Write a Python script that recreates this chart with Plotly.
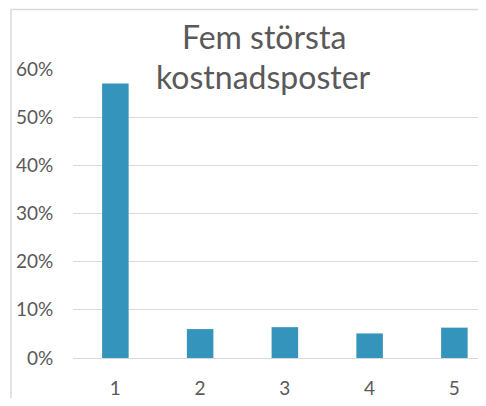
import plotly.graph_objects as go

categories = ["1", "2", "3", "4", "5"]
values = [0.570, 0.060, 0.064, 0.051, 0.063]
title_lines = ["Fem största", "kostnadsposter"]

# page body has an 8px margin, so work in window pixels and shift by OFF
OFF = 8
W, H = 486 - OFF, 406 - 2 * OFF
L, R, T, B = 73 - OFF, 0, 69 - OFF, 48 - OFF
pw, ph = W - L - R, H - T - B
CAT_PX = 84.75  # pixels per category in the reference
x_max = -0.5 + pw / CAT_PX

def px2paper_x(px):
    return (px - OFF - L) / pw

def px2paper_y(py):
    return (H - B - (py - OFF)) / ph

font = "Lato, 'Open Sans', sans-serif"
txt = "#595959"
grid = "#d9d9d9"

fig = go.Figure(go.Bar(
    x=categories, y=values, marker=dict(color="#3494bb", line=dict(width=0)),
    width=0.313,
))

fig.update_layout(
    width=W, height=H,
    margin=dict(l=L, r=R, t=T, b=B, pad=0),
    paper_bgcolor="white", plot_bgcolor="white",
    showlegend=False,
    font=dict(family=font, color=txt, size=19),
    xaxis=dict(type="category", range=[-0.5, x_max], showgrid=False,
               showline=False, zeroline=False, ticks="outside", ticklen=13,
               tickcolor="rgba(0,0,0,0)", tickfont=dict(size=19, color=txt)),
    yaxis=dict(range=[0, 0.6], dtick=0.1, tickformat=".0%", showgrid=True,
               gridcolor=grid, gridwidth=1, zeroline=True, zerolinecolor=grid,
               zerolinewidth=1, showline=False, ticks="outside", ticklen=15,
               tickcolor="rgba(0,0,0,0)", tickfont=dict(size=19, color=txt)),
)

# chart frame (top and left border)
fig.add_shape(type="line", xref="paper", yref="paper",
              x0=px2paper_x(11), x1=px2paper_x(500), y0=px2paper_y(9.5), y1=px2paper_y(9.5),
              line=dict(color=grid, width=1.5), layer="below")
fig.add_shape(type="line", xref="paper", yref="paper",
              x0=px2paper_x(11), x1=px2paper_x(11), y0=px2paper_y(9.5), y1=px2paper_y(415),
              line=dict(color=grid, width=1.5), layer="below")

# title (two lines, overlaying plot)
for line, cy in zip(title_lines, [36.0, 76.0]):
    fig.add_annotation(text=line, xref="paper", yref="paper",
                       x=px2paper_x(263.5), y=px2paper_y(cy), xanchor="center",
                       yanchor="middle", showarrow=False,
                       font=dict(size=32, color=txt, family=font))

fig.write_html("out.html")
